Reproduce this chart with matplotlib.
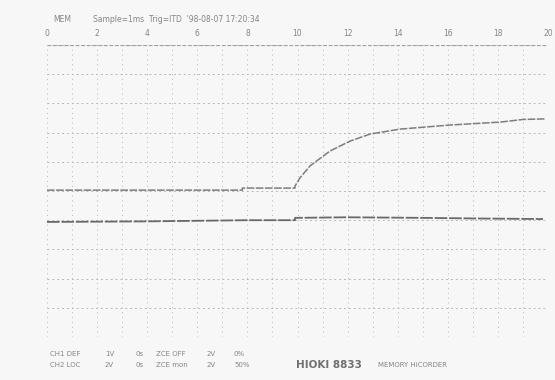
import numpy as np
from matplotlib import pyplot as plt

# recorder printout: 20 time divisions across, 10 amplitude divisions up
top_ticks = [0, 2, 4, 6, 8, 10, 12, 14, 16, 18, 20]
top_labels = ['0', '2', '4', '6', '8', '10', '12', '14', '16', '18', '20']

# CH1 (upper trace), in divisions
ch1_x = [0.0, 7.8, 7.8, 9.9, 9.9, 10.1, 10.5, 11.3, 12.1, 12.9, 14.1,
         16.1, 18.1, 19.0, 19.9]
ch1_y = [5.03, 5.03, 5.10, 5.10, 5.17, 5.45, 5.86, 6.37, 6.71, 6.95, 7.12,
         7.26, 7.36, 7.45, 7.47]

# CH2 (lower trace)
ch2_x = [0.0, 4.0, 8.0, 9.9, 9.9, 12.0, 15.0, 17.0, 19.8]
ch2_y = [3.94, 3.96, 4.00, 4.00, 4.08, 4.10, 4.08, 4.06, 4.04]

header_left = 'MEM'
header_right = "Sample=1ms  Trig=ITD  '98-08-07 17:20:34"
row1 = ['CH1 DEF', '1V', '0s', 'ZCE OFF', '2V', '0%']
row2 = ['CH2 LOC', '2V', '0s', 'ZCE mon', '2V', '50%']
row_x = [50, 105, 135, 156, 207, 234]
model = 'HIOKI 8833'
subtitle = 'MEMORY HiCORDER'

W, H = 555, 380
fig = plt.figure(figsize=(W / 100, H / 100), dpi=100, facecolor='#f7f7f7')
ax = fig.add_axes([47 / W, 43 / H, 501 / W, 292 / H])
ax.set_facecolor('#f7f7f7')
ax.set_xlim(0, 20)
ax.set_ylim(0, 10)
for s in ax.spines.values():
    s.set_visible(False)
ax.set_xticks([])
ax.set_yticks([])

grid_c = '#b8b8b8'
for gx in range(0, 21):
    ax.axvline(gx, color=grid_c, lw=0.7, ls=(0, (1, 4)))
for gy in range(0, 11):
    ax.axhline(gy, color=grid_c, lw=0.7, ls=(0, (2, 3)))
ax.axhline(10, color='#a0a0a0', lw=0.9, ls=(0, (3, 1.5)))

ax.plot(ch1_x, ch1_y, color='#707070', lw=1.1, ls=(0, (5, 1)), alpha=0.9)
ax.plot(ch2_x, ch2_y, color='#5a5a5a', lw=1.3, ls=(0, (7, 1)), alpha=0.9)

txt_c = '#858585'
for t, lab in zip(top_ticks, top_labels):
    ax.text(t, 10.25, lab, ha='center', va='bottom', fontsize=5.5, color=txt_c)

fig.text(53 / W, 1 - 20 / H, header_left, fontsize=5.5, color=txt_c, va='center')
fig.text(93 / W, 1 - 20 / H, header_right, fontsize=5.5, color=txt_c, va='center')

for x, a, b in zip(row_x, row1, row2):
    fig.text(x / W, 1 - 354 / H, a, fontsize=5, color=txt_c, va='center')
    fig.text(x / W, 1 - 365 / H, b, fontsize=5, color=txt_c, va='center')
fig.text(296 / W, 1 - 365 / H, model, fontsize=7.5, fontweight='bold',
         color='#707070', va='center')
fig.text(378 / W, 1 - 365 / H, subtitle, fontsize=5, color=txt_c, va='center')

fig.savefig('out.png', dpi=100, facecolor=fig.get_facecolor())
